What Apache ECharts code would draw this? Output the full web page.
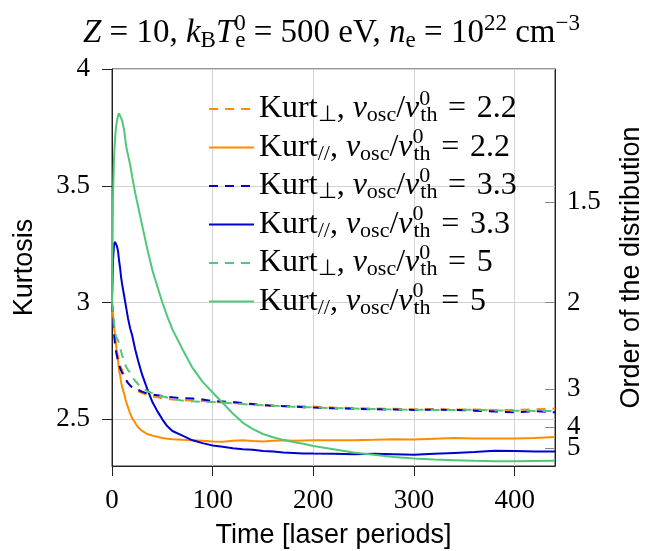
<!DOCTYPE html>
<html><head><meta charset="utf-8">
<script src="https://cdn.jsdelivr.net/npm/echarts@6/dist/echarts.min.js"></script>
<style>html,body{margin:0;padding:0;background:#fff}#c{width:647px;height:551px}</style>
</head><body><div id="c"></div>
<script>
// ---- data ----
const times = [0,1,2,3,4,5,6,7,8,9,10,12,14,16,18,20,23,26,30,35,40,45,50,55,60,70,80,90,100,110,120,130,140,150,160,170,180,190,200,220,240,260,280,300,320,340,360,380,400,420,440];
const kurtPerp22 = [3.00,2.93,2.88,2.84,2.82,2.79,2.77,2.75,2.735,2.72,2.71,2.69,2.67,2.655,2.645,2.635,2.625,2.62,2.612,2.604,2.598,2.594,2.59,2.587,2.585,2.582,2.58,2.578,2.575,2.572,2.57,2.566,2.563,2.56,2.558,2.557,2.556,2.556,2.555,2.55,2.548,2.546,2.545,2.543,2.544,2.542,2.542,2.54,2.54,2.543,2.545];
const kurtPar22  = [3.00,2.95,2.90,2.86,2.82,2.78,2.75,2.71,2.69,2.66,2.64,2.61,2.575,2.55,2.525,2.505,2.485,2.465,2.45,2.437,2.43,2.425,2.42,2.417,2.415,2.412,2.41,2.408,2.405,2.404,2.408,2.41,2.407,2.405,2.408,2.41,2.408,2.409,2.41,2.41,2.41,2.412,2.415,2.414,2.417,2.42,2.418,2.418,2.418,2.42,2.424];
const kurtPerp33 = [3.00,2.93,2.87,2.82,2.79,2.77,2.75,2.73,2.72,2.71,2.70,2.68,2.667,2.655,2.645,2.637,2.632,2.626,2.618,2.61,2.606,2.603,2.60,2.597,2.594,2.59,2.589,2.585,2.578,2.576,2.574,2.57,2.565,2.56,2.558,2.556,2.555,2.552,2.55,2.547,2.545,2.543,2.542,2.54,2.541,2.54,2.537,2.533,2.53,2.535,2.53];
const kurtPar33  = [3.00,3.18,3.25,3.26,3.25,3.24,3.22,3.18,3.15,3.11,3.08,3.03,2.98,2.93,2.89,2.86,2.80,2.75,2.69,2.63,2.575,2.535,2.50,2.47,2.45,2.43,2.41,2.398,2.388,2.382,2.376,2.372,2.37,2.364,2.362,2.358,2.356,2.354,2.353,2.352,2.35,2.352,2.35,2.348,2.352,2.356,2.36,2.365,2.364,2.362,2.362];
const kurtPerp5  = [3.00,2.95,2.91,2.88,2.855,2.85,2.84,2.82,2.805,2.79,2.775,2.745,2.725,2.71,2.70,2.68,2.665,2.65,2.637,2.62,2.612,2.605,2.598,2.593,2.588,2.58,2.577,2.575,2.574,2.572,2.568,2.565,2.562,2.56,2.558,2.556,2.554,2.552,2.551,2.548,2.546,2.544,2.542,2.541,2.54,2.54,2.541,2.538,2.537,2.536,2.536];
const kurtPar5   = [3.00,3.45,3.62,3.70,3.75,3.78,3.80,3.81,3.81,3.79,3.78,3.74,3.67,3.63,3.59,3.54,3.47,3.41,3.33,3.23,3.14,3.07,3.00,2.94,2.885,2.80,2.72,2.66,2.615,2.57,2.525,2.485,2.458,2.437,2.423,2.412,2.403,2.395,2.386,2.372,2.358,2.348,2.339,2.332,2.328,2.325,2.322,2.32,2.32,2.321,2.322];
const seriesNames = ['perp22','par22','perp33','par33','perp5','par5'];
const ratios = ['2.2','2.2','3.3','3.3','5','5'];
const comps = ['⊥','//','⊥','//','⊥','//'];
const xTicks = [0,100,200,300,400];
const yTicks = [2.5,3,3.5,4];
const orderLabels = ['1.5','2','3','4','5'];
const orderKurt = [3.431,3.0,2.630,2.468,2.378];

// ---- styling ----
const SERIF = 'Liberation Serif';
const SANS = 'Liberation Sans';
const ORANGE = '#ff8c00', BLUE = '#0000d0', GREEN = '#50c878';
const colors = [ORANGE, ORANGE, BLUE, BLUE, GREEN, GREEN];
const dashed = [true,false,true,false,true,false];
const allData = [kurtPerp22,kurtPar22,kurtPerp33,kurtPar33,kurtPerp5,kurtPar5];

const series = seriesNames.map((n,k)=>({
  name:n, type:'line', symbol:'none', smooth:false, animation:false,
  data: times.map((t,i)=>[t, allData[k][i]]),
  lineStyle:{color:colors[k], width:2, type: dashed[k]?[9,7]:'solid'},
  itemStyle:{color:colors[k]}, z: 3
}));

const richSerif = (sz)=>{
  const s = Math.round(sz*0.7);
  const base = {fontFamily:SERIF,color:'#000',fontWeight:'normal'};
  return {
    r:Object.assign({fontSize:sz},base),
    i:Object.assign({fontSize:sz,fontStyle:'italic'},base),
    sb:Object.assign({fontSize:s,padding:[Math.round(sz*0.42),0,0,0]},base),
    sp:Object.assign({fontSize:s,padding:[0,0,Math.round(sz*0.62),0]},base),
    spz:Object.assign({fontSize:s,padding:[0,0,Math.round(sz*0.62),0],width:1},base)
  };
};

const orderFmt = v=>{let b=0;for(let i=1;i<orderKurt.length;i++){if(Math.abs(orderKurt[i]-v)<Math.abs(orderKurt[b]-v))b=i;}return orderLabels[b];};
const rightAxis = (vals, withName)=>({
  type:'value', min:2.3, max:4, position:'right', offset:0,
  name: withName ? 'Order of the distribution' : '', nameLocation:'middle', nameGap:63, nameRotate:90,
  nameTextStyle:{fontFamily:SANS,fontSize:27,color:'#000'},
  axisLine:{show:withName,lineStyle:{color:'#222',width:1}},
  axisTick:{show:true,inside:true,length:10,customValues:vals,lineStyle:{color:'#888'}},
  axisLabel:{customValues:vals,hideOverlap:false,showMinLabel:true,showMaxLabel:true,fontFamily:SERIF,fontSize:27,color:'#000',margin:12,formatter:orderFmt},
  splitLine:{show:false}
});

const SP = '\u2004';
const chart = echarts.init(document.getElementById('c'), null, {renderer:'canvas'});
chart.setOption({
  animation:false,
  backgroundColor:'#fff',
  title:{
    left:78, top:7,
    text:'{i|Z}{r| = 10, }{i|k}{sb|B}{i|T}{spz|0}{sb|e}{r| = 500 eV, }{i|n}{sb|e}{r| = 10}{sp|22}{r| cm}{sp|−3}',
    textStyle:{fontWeight:'normal',rich:richSerif(33)}
  },
  grid:{left:112,right:92,top:69,bottom:85,outerBoundsMode:'none',containLabel:false,show:true,borderColor:'#333',borderWidth:1,backgroundColor:'transparent'},
  legend:{
    orient:'vertical', left:203, top:83, itemWidth:45, itemHeight:14, itemGap:0,
    data:seriesNames,
    itemStyle:{opacity:0},
    formatter:(name)=>{
      const k = seriesNames.indexOf(name);
      return '{r|Kurt}{sb|'+comps[k]+'}{r|, }{i|v}{sb|osc}{r|/}{i|v}{spz|0}{sb|th}{r|'+SP+'='+SP+ratios[k]+'}';
    },
    textStyle:{rich:richSerif(32)},
    backgroundColor:'transparent'
  },
  xAxis:{
    type:'value', min:0, max:440,
    name:'Time [laser periods]', nameLocation:'middle', nameGap:56,
    nameTextStyle:{fontFamily:SANS,fontSize:27,color:'#000'},
    axisLine:{show:true,lineStyle:{color:'#222',width:1}},
    axisTick:{show:true,inside:false,length:10,customValues:xTicks,lineStyle:{color:'#222'}},
    axisLabel:{customValues:xTicks,fontFamily:SERIF,fontSize:27,color:'#000',margin:21},
    splitLine:{show:true,lineStyle:{color:'#d2d2d2',width:1}}
  },
  yAxis:[{
    type:'value', min:2.3, max:4, position:'left',
    name:'Kurtosis', nameLocation:'middle', nameGap:74, nameRotate:90,
    nameTextStyle:{fontFamily:SANS,fontSize:27,color:'#000'},
    axisLine:{show:true,lineStyle:{color:'#222',width:1}},
    axisTick:{show:true,inside:false,length:10,customValues:yTicks,lineStyle:{color:'#222'}},
    axisLabel:{customValues:yTicks,fontFamily:SERIF,fontSize:27,color:'#000',margin:22,formatter:v=>String(v)},
    splitLine:{show:true,lineStyle:{color:'#d2d2d2',width:1}}
  },
  rightAxis(orderKurt.slice(0,4), true),
  rightAxis(orderKurt.slice(4), false)
  ],
  series: series
});
</script></body></html>
